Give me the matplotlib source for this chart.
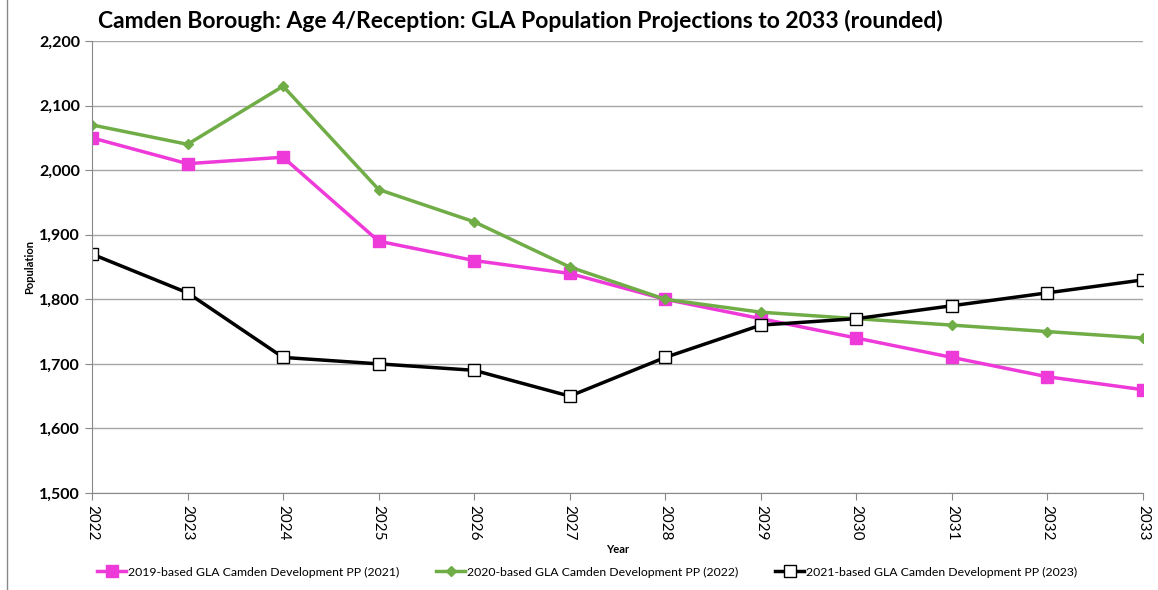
import matplotlib.pyplot as plt
from matplotlib.lines import Line2D

years = ['2022', '2023', '2024', '2025', '2026', '2027', '2028', '2029', '2030', '2031', '2032', '2033']
pp_2019 = [2050, 2010, 2020, 1890, 1860, 1840, 1800, 1770, 1740, 1710, 1680, 1660]
pp_2020 = [2070, 2040, 2130, 1970, 1920, 1850, 1800, 1780, 1770, 1760, 1750, 1740]
pp_2021 = [1870, 1810, 1710, 1700, 1690, 1650, 1710, 1760, 1770, 1790, 1810, 1830]
labels = ['2019-based GLA Camden Development PP (2021)',
          '2020-based GLA Camden Development PP (2022)',
          '2021-based GLA Camden Development PP (2023)']

plt.rcParams['font.family'] = ['Lato', 'DejaVu Sans']

fig = plt.figure(figsize=(11.58, 5.9), dpi=100)
ax = fig.add_axes([92 / 1158, 1 - 493 / 590, (1143 - 92) / 1158, (493 - 41) / 590])

x = range(len(years))
ax.plot(x, pp_2019, color='#EE3AD9', lw=2.5, marker='s', ms=8, label=labels[0])
ax.plot(x, pp_2020, color='#70AD47', lw=2.5, marker='D', ms=5.5, label=labels[1])
ax.plot(x, pp_2021, color='black', lw=2.5, marker='s', ms=8, mfc='white', mec='black', mew=1, label=labels[2])

ax.set_xlim(0, len(years) - 1)
ax.set_ylim(1500, 2200)
ax.set_yticks(range(1500, 2201, 100))
ax.set_yticklabels([f'{v:,}' for v in range(1500, 2201, 100)], fontweight='bold', fontsize=11.5)
ax.set_xticks(list(x))
ax.set_xticklabels(years, rotation=-90, fontsize=11)
ax.yaxis.grid(True, color='#A6A6A6', lw=1)
ax.set_axisbelow(True)
for s in ['top', 'right']:
    ax.spines[s].set_visible(False)
for s in ['left', 'bottom']:
    ax.spines[s].set_color('#888888')
ax.tick_params(colors='#888888', length=5, labelcolor='black')

ax.set_xlabel('Year', fontweight='bold', fontsize=8, labelpad=3)
ax.set_ylabel('Population', fontweight='bold', fontsize=8, labelpad=3)
ax.set_title('Camden Borough: Age 4/Reception: GLA Population Projections to 2033 (rounded)',
             fontweight='bold', fontsize=16.5, x=(520 - 92) / 1051, pad=9)

fig.legend(loc='center left', bbox_to_anchor=(92 / 1158, 1 - 572 / 590), ncol=3, frameon=False,
           fontsize=8.8, handlelength=2.4, columnspacing=3.0, handletextpad=0.15, borderaxespad=0)

fig.add_artist(Line2D([7 / 1158, 7 / 1158], [0, 1], color='#888888', lw=1))

fig.savefig('out.png', dpi=100)
